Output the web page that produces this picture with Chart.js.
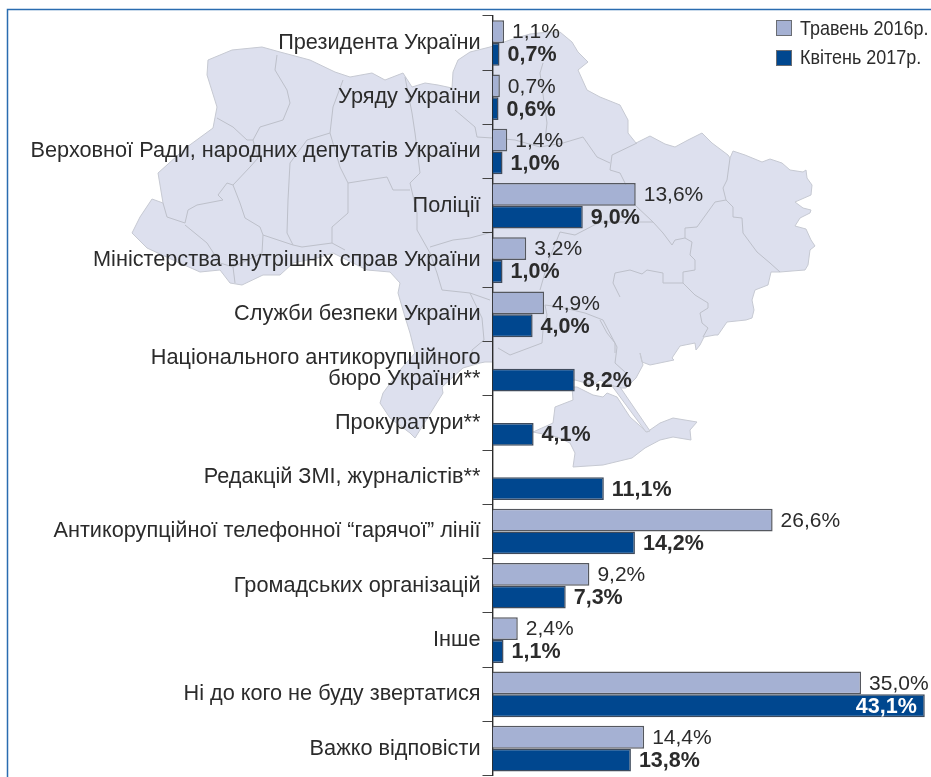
<!DOCTYPE html>
<html><head><meta charset="utf-8">
<style>html,body{margin:0;padding:0;background:#fff}canvas{display:block}</style>
<script src="https://cdn.jsdelivr.net/npm/chart.js@4"></script>
</head><body><canvas id="c" width="931" height="777"></canvas>
<script>
const categories = ["Президента України","Уряду України","Верховної Ради, народних депутатів України","Поліції","Міністерства внутрішніх справ України","Служби безпеки України",["Національного антикорупційного","бюро України**"],"Прокуратури**","Редакцій ЗМІ, журналістів**","Антикорупційної телефонної “гарячої” лінії","Громадських організацій","Інше","Ні до кого не буду звертатися","Важко відповісти"];
const may2016 = [1.1,0.7,1.4,13.6,3.2,4.9,null,null,null,26.6,9.2,2.4,35.0,14.4];
const april2017 = [0.7,0.6,1.0,9.0,1.0,4.0,8.2,4.1,11.1,14.2,7.3,1.1,43.1,13.8];
const seriesNames = ["Травень 2016р.","Квітень 2017р."];

// Decorative background map of Ukraine (not data)
const mapMain = [[208,60],[232,50],[262,47],[280,52],[310,60],[335,72],[350,77],[372,73],[385,80],[403,73],[412,87],[425,83],[438,85],[452,88],[453,72],[458,60],[470,52],[490,47],[510,40],[530,34],[548,32],[560,32],[572,42],[578,52],[584,58],[588,62],[578,70],[587,90],[600,97],[620,105],[628,120],[628,133],[636,143],[650,136],[665,144],[675,147],[688,140],[702,133],[712,143],[728,155],[730,158],[733,151],[745,155],[762,162],[770,159],[782,163],[790,170],[803,172],[806,170],[807,178],[812,185],[811,195],[795,202],[803,208],[811,210],[810,213],[800,218],[795,226],[806,229],[811,240],[815,246],[810,250],[808,265],[805,270],[792,271],[780,272],[771,272],[768,285],[755,290],[752,300],[754,310],[752,318],[746,320],[727,322],[718,335],[715,335],[704,337],[700,345],[696,350],[695,343],[680,346],[672,358],[674,360],[650,365],[642,362],[640,353],[643,365],[636,378],[626,388],[618,388],[600,380],[593,385],[575,380],[560,383],[543,387],[523,390],[508,381],[493,378],[493,362],[485,362],[480,363],[463,368],[442,387],[443,393],[415,438],[410,433],[390,418],[380,403],[383,393],[400,370],[415,353],[410,333],[405,317],[398,293],[400,283],[390,272],[367,270],[353,263],[333,253],[317,258],[293,263],[280,275],[263,275],[242,285],[230,283],[220,270],[200,272],[173,260],[147,248],[132,233],[140,217],[152,199],[163,203],[158,173],[187,147],[213,128],[217,107],[207,75]];
const mapCrimea = [[572,387],[577,387],[593,395],[603,397],[607,393],[617,397],[630,417],[647,432],[660,423],[673,418],[697,422],[690,430],[691,440],[673,437],[660,440],[645,448],[632,458],[603,465],[573,467],[575,453],[570,443],[557,437],[533,432],[553,423],[555,407],[573,400]];
const mapSpit = [[612,386],[620,387],[650,431],[646,432]];
const mapBorders = [
 [[277,55],[275,70],[287,90],[290,103],[283,120],[260,127],[253,140],[258,158],[250,167],[233,185],[240,203],[245,218],[260,227],[263,235],[262,253]],
 [[217,118],[233,127],[247,140],[253,140]],
 [[233,185],[227,183],[218,195],[223,200],[197,205],[188,210],[185,223],[167,217],[163,203]],
 [[185,225],[207,243],[220,263],[233,267],[235,283]],[[233,267],[262,253]],
 [[263,235],[293,245],[302,247],[332,243],[345,250]],
 [[293,245],[287,233],[288,200],[290,163],[307,140],[330,133],[333,107],[343,80]],
 [[330,133],[340,167],[348,183],[348,213],[332,227],[332,243]],
 [[348,183],[367,180],[387,177],[393,190],[410,190]],
 [[405,77],[412,113],[415,133],[420,173],[410,183],[417,213],[417,230],[430,253],[437,273],[442,290],[470,293],[490,300]],
 [[430,247],[453,240],[470,238],[492,232]],
 [[455,110],[475,127],[477,137],[493,138],[515,140],[540,147],[563,143],[583,137],[597,157],[610,163]],
 [[543,63],[540,73],[547,123],[545,140]],
 [[637,143],[612,155],[610,170],[620,173],[625,183],[635,205],[653,222],[663,233],[672,245],[675,240],[685,238],[685,228],[697,227],[715,202],[726,200]],
 [[730,158],[727,180],[723,188],[726,200],[733,207],[733,217],[742,218],[743,233],[757,252],[770,263],[780,272]],
 [[685,238],[692,242],[690,255],[695,260],[695,270],[683,272],[683,283],[663,283],[663,273],[647,270],[642,274],[630,270],[615,273],[613,283],[620,297]],
 [[683,283],[695,295],[708,303],[708,308],[700,313],[702,323],[708,328],[703,337]],
 [[653,222],[600,222],[575,235],[560,232],[548,262],[540,290]],
 [[585,313],[603,320],[617,347],[615,363],[625,372]],[[600,320],[607,333],[615,343],[615,353]],
 [[585,313],[560,307],[545,305],[547,315],[543,330],[542,343],[510,355],[498,348]],
 [[470,293],[482,318],[484,340],[472,350],[472,362]]
];

function poly(ctx, pts, close){
  ctx.beginPath();
  pts.forEach((p,i)=> i?ctx.lineTo(p[0],p[1]):ctx.moveTo(p[0],p[1]));
  if(close) ctx.closePath();
}
const mapPlugin = { id:'map', beforeDraw(chart){
  const ctx = chart.ctx; ctx.save();
  ctx.fillStyle='#dde0ee'; ctx.strokeStyle='#c6c9d2'; ctx.lineWidth=1;
  [mapMain,mapCrimea,mapSpit].forEach(p=>{poly(ctx,p,true);ctx.fill();ctx.stroke();});
  ctx.strokeStyle='#bdc0ca';
  mapBorders.forEach(p=>{poly(ctx,p,false);ctx.stroke();});
  ctx.strokeStyle='#2a6cb0'; ctx.lineWidth=1.5;
  ctx.beginPath(); ctx.moveTo(7.5,777); ctx.lineTo(7.5,9.5); ctx.lineTo(931,9.5); ctx.stroke();
  ctx.restore();
}};
const labelPlugin = { id:'valueLabels', afterDatasetsDraw(chart){
  const ctx = chart.ctx; ctx.save(); ctx.textBaseline='middle';
  chart.data.datasets.forEach((ds,d)=>{
    chart.getDatasetMeta(d).data.forEach((bar,i)=>{
      const v = ds.data[i]; if(v===null) return;
      const txt = v.toFixed(1).replace('.',',')+'%';
      ctx.font = (d===1?'bold 21.5px':'21px')+' "Liberation Sans"';
      if(d===1 && v>40){ ctx.fillStyle='#fff'; ctx.textAlign='right'; ctx.fillText(txt,bar.x-8,bar.y+1); }
      else { ctx.fillStyle='#2b2b2b'; ctx.textAlign='left'; ctx.fillText(txt,bar.x+8,bar.y+1); }
    });
  });
  // legend
  chart.data.datasets.forEach((ds,d)=>{
    const y = d===0?20:50;
    ctx.fillStyle=ds.backgroundColor; ctx.strokeStyle='#6a6d73'; ctx.lineWidth=1;
    ctx.fillRect(776.5,y+.5,15,15); ctx.strokeRect(776.5,y+.5,15,15);
    ctx.fillStyle='#2b2b2b'; ctx.textAlign='left'; ctx.font='21px "Liberation Sans"';
    ctx.fillText(ds.label,800,d===0?29:58,ctx.measureText(ds.label).width*0.855);
  });
  ctx.restore();
}};
new Chart(document.getElementById('c'),{
  type:'bar',
  data:{labels:categories,datasets:[
    {label:seriesNames[0],data:may2016,xAxisID:'xLight',backgroundColor:'#a5b1d3',borderColor:'#55585f',borderWidth:1.5,categoryPercentage:.84,barPercentage:1},
    {label:seriesNames[1],data:april2017,xAxisID:'x',backgroundColor:'#00478f',borderColor:'#3f4b5c',borderWidth:1.5,categoryPercentage:.84,barPercentage:1}
  ]},
  plugins:[mapPlugin,labelPlugin],
  options:{
    indexAxis:'y',responsive:false,animation:false,
    layout:{padding:{top:15.8,bottom:1.2,left:0,right:0}},
    plugins:{legend:{display:false},tooltip:{enabled:false}},
    scales:{
      x:{display:false,min:0,max:43.72},
      xLight:{axis:'x',display:false,min:0,max:41.64},
      y:{
        afterFit(s){s.width=492.5;s.paddingTop=0;s.paddingBottom=0;},
        border:{color:'#2b2b2b',width:1.4},
        grid:{drawOnChartArea:false,drawTicks:true,tickLength:10,color:'#444',lineWidth:1},
        ticks:{color:'#2b2b2b',padding:2,autoSkip:false,font:{family:'"Liberation Sans"',size:21.7,lineHeight:1}}
      }
    }
  }
});
</script></body></html>
